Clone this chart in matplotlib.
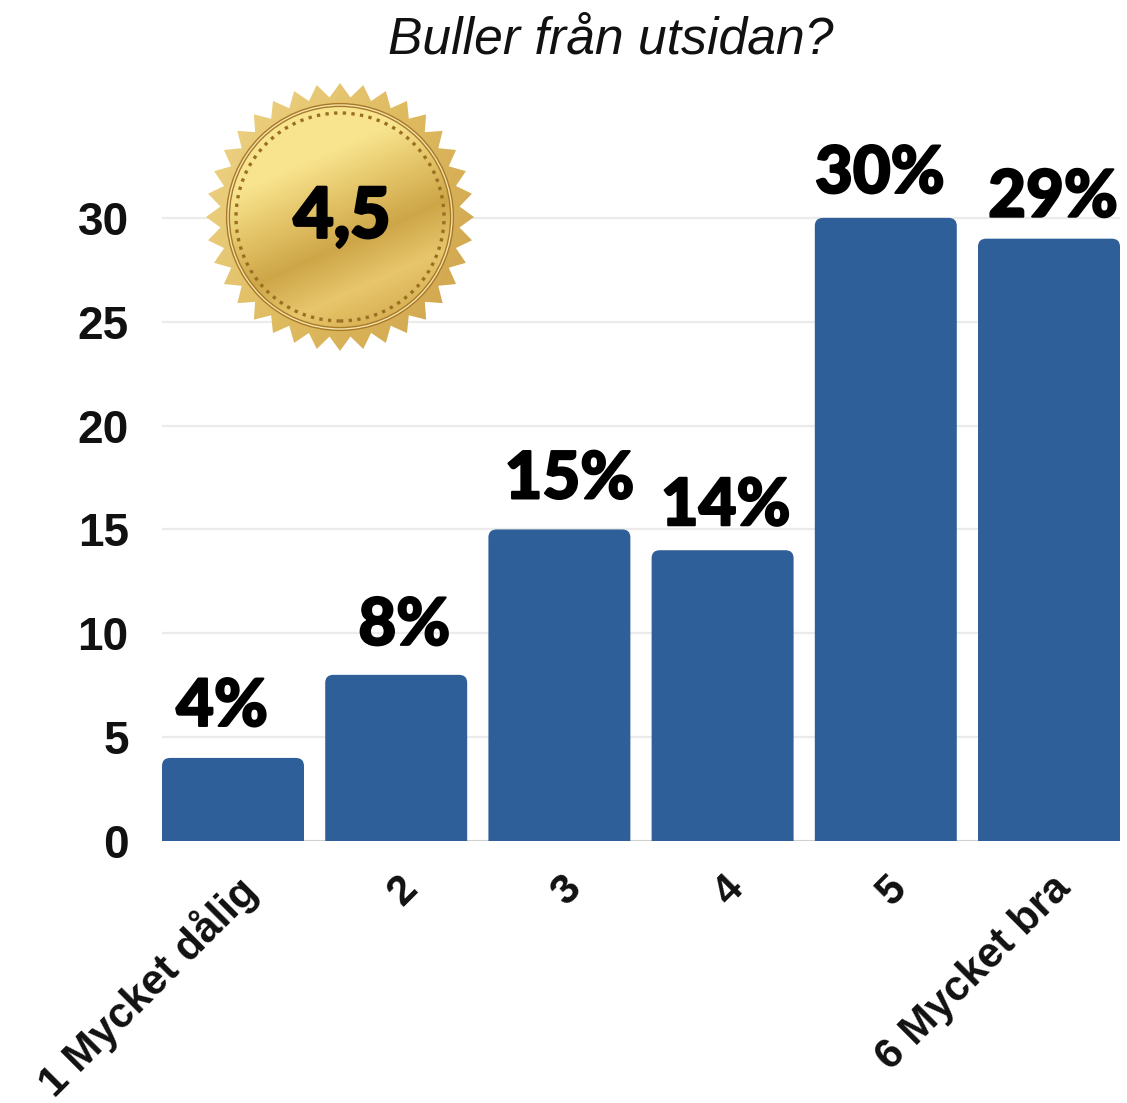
import numpy as np
import matplotlib
matplotlib.use("Agg")
import matplotlib.pyplot as plt
import matplotlib.patheffects as pe
from matplotlib.colors import LinearSegmentedColormap
from matplotlib.patches import FancyBboxPatch, Circle, Polygon

categories = ["1 Mycket dålig", "2", "3", "4", "5", "6 Mycket bra"]
values = [4, 8, 15, 14, 30, 29]
value_labels = ["4%", "8%", "15%", "14%", "30%", "29%"]
y_ticks = [0, 5, 10, 15, 20, 25, 30]
title = "Buller från utsidan?"
score = "4,5"

# hand placed offsets of the value labels, pixels
label_dx = [-11, 8, 10, 3, -6, 4]
label_dy = [21, 19, 20, 14, 14, 11]

W, H = 1127, 1103
BLUE = "#2f5f98"

plt.rcParams["font.family"] = ["Liberation Sans", "DejaVu Sans"]
fig = plt.figure(figsize=(W / 100, H / 100), dpi=100)


def px_axes(left, top, right, bottom):
    return fig.add_axes([left / W, 1 - bottom / H, (right - left) / W, (bottom - top) / H])


# main chart, axes run from the baseline up to the top of the figure
ax = px_axes(162, 0, 1120, 841)
ax.set_xlim(-0.435, 5.435)
ax.set_ylim(0, 841 / 20.77)
x = np.arange(len(values))
bar_w = 0.87
ax.set_yticks(y_ticks)
ax.set_yticklabels([str(t) for t in y_ticks], fontsize=33, fontweight="bold", color="#111111")
ax.set_xticks(x)
ax.set_xticklabels([])
ax.tick_params(length=0, axis="both")
ax.tick_params(axis="y", pad=24)
ax.grid(axis="y", color="#ebebeb", lw=1.6)
ax.set_axisbelow(True)
for s in ax.spines.values():
    s.set_visible(False)
ax.axhline(0, color="#cccccc", lw=2, zorder=1)

for xi, cat in zip(x, categories):
    # tick labels ignore an extra transform, so these sit on the axis as annotations
    ax.annotate(cat, (xi, 0), xytext=(1, -27), textcoords="offset pixels", rotation=45,
                ha="right", va="top", rotation_mode="anchor", annotation_clip=False,
                fontsize=30.5, fontweight="bold", color="#111111")

for xi, v, lab, dx, dy in zip(x, values, value_labels, label_dx, label_dy):
    # starts below the baseline so the axes clip away the lower rounded corners
    ax.add_patch(FancyBboxPatch((xi - bar_w / 2, -0.5), bar_w, v + 0.5,
                                boxstyle="round,pad=0,rounding_size=0.05", mutation_aspect=7.7,
                                fc=BLUE, ec="none", zorder=2))
    ax.annotate(lab, (xi, v), xytext=(dx, dy), textcoords="offset pixels", ha="center", va="bottom",
                fontsize=47, family=["Lato", "DejaVu Sans"], fontweight=900, color="black",
                path_effects=[pe.withStroke(linewidth=1.5, foreground="black")], zorder=5)

fig.text(611 / W, 1 - 40 / H, title, ha="center", va="center", fontsize=37.2, style="italic", color="#111111")

# gold medal, drawn in its own pixel space
medal = px_axes(200, 77, 480, 357)
medal.axis("off")
medal.patch.set_alpha(0)

n_points = 36
ang = np.linspace(0, 2 * np.pi, 2 * n_points, endpoint=False) + np.pi / 2
rad = np.where(np.arange(2 * n_points) % 2 == 0, 134, 120)
star = Polygon(np.c_[rad * np.cos(ang), rad * np.sin(ang)], closed=True, fc="none", ec="none")
medal.add_patch(star)
gx, gy = np.meshgrid(np.linspace(-140, 140, 300), np.linspace(140, -140, 300))
star_cmap = LinearSegmentedColormap.from_list("star", ["#efd588", "#dfbb60", "#cfa44c"])
img = medal.imshow((gx + gy * -0.6 + 200) / 400, cmap=star_cmap, vmin=0, vmax=1,
                   extent=(-140, 140, -140, 140), zorder=1)
img.set_clip_path(star)

disc = Circle((0, 0), 112, fc="none", ec="none")
medal.add_patch(disc)
disc_cmap = LinearSegmentedColormap.from_list("disc", ["#f8e48e", "#e4c468", "#cda648", "#e8c66c", "#d6ad50"])
shade = np.clip((70 - gy) / 200 + 0.22 * gx / 100, 0, 1)
img2 = medal.imshow(shade, cmap=disc_cmap, vmin=0, vmax=1, extent=(-140, 140, -140, 140), zorder=2)
img2.set_clip_path(disc)
medal.set_xlim(-140, 140)
medal.set_ylim(-140, 140)

medal.add_patch(Circle((0, 0), 112, fc="none", ec="#a87a28", lw=3, zorder=3))
medal.add_patch(Circle((0, 0), 112, fc="none", ec="#f5e3a8", lw=1.0, zorder=3))
medal.add_patch(Circle((0, 0), 104, fc="none", ec="#9a6f22", lw=2.4, ls=(0, (1, 1.6)), zorder=3))
medal.text(2, -1, score, ha="center", va="center", fontsize=50, family=["Lato", "DejaVu Sans"],
           fontweight=900, color="black", zorder=4,
           path_effects=[pe.withStroke(linewidth=2, foreground="black")])

fig.savefig("out.png", dpi=100)
